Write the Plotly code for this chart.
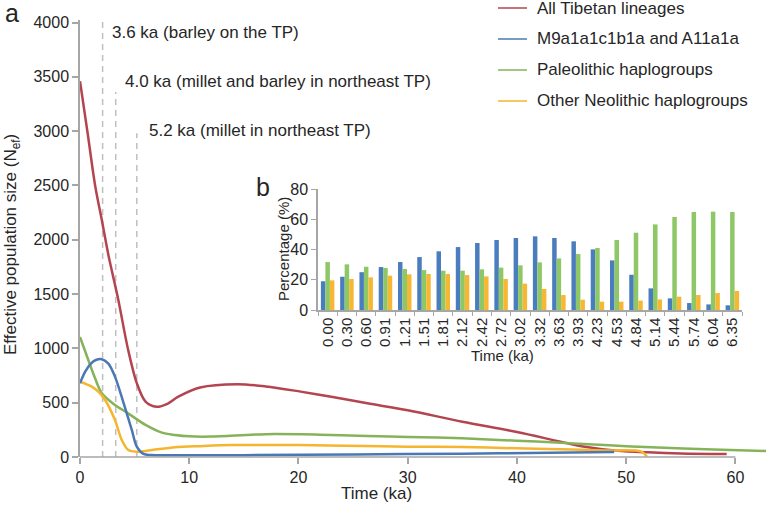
import plotly.graph_objects as go

# ---------------- data ----------------
red_x = [0, 0.7, 1.4, 2.0, 2.6, 3.5, 4.4, 5.2, 6.0, 7.0, 8.0, 9.0, 11, 14.4, 17, 20.2, 23, 26.3, 30, 35, 40, 44, 46.2, 49.2, 52, 55, 59.2]
red_y = [3460, 2980, 2490, 2180, 1860, 1450, 990, 680, 510, 463, 490, 555, 640, 670, 650, 602, 555, 494, 430, 325, 230, 141, 95, 58, 43, 33, 28]

blue_x = [0, 0.5, 1.0, 1.5, 2.0, 2.6, 3.2, 4.0, 4.74, 5.2, 5.8, 6.5, 8, 15, 25, 35, 43, 48.9]
blue_y = [679, 790, 860, 895, 900, 860, 740, 494, 249, 95, 28, 18, 15, 17, 24, 30, 40, 45]

green_x = [0, 0.76, 1.4, 2.0, 3.2, 4.4, 6.0, 7.5, 8.7, 10, 12, 17, 22, 26.3, 30, 35, 40, 44, 48, 52.3, 58, 63]
green_y = [1105, 893, 720, 587, 479, 402, 295, 224, 203, 190, 188, 210, 205, 193, 185, 172, 150, 132, 110, 89, 70, 55]

orange_x = [0, 1.07, 1.7, 2.3, 3.2, 3.82, 4.43, 5.2, 6.6, 8.7, 11, 14, 20, 26, 30, 35, 40, 44, 48, 51.4, 51.9]
orange_y = [694, 648, 600, 525, 341, 157, 64, 49, 64, 89, 100, 110, 110, 101, 95, 92, 80, 71, 60, 49, 3]

series_names = ["All Tibetan lineages", "M9a1a1c1b1a and A11a1a",
                "Paleolithic haplogroups", "Other Neolithic haplogroups"]

event_x = [2.07, 3.27, 5.2]
event_top = [4020, 3360, 2980]
event_labels = ["3.6 ka (barley on the TP)",
                "4.0 ka (millet and barley in northeast TP)",
                "5.2 ka (millet in northeast TP)"]

inset_times = ["0.00", "0.30", "0.60", "0.91", "1.21", "1.51", "1.81", "2.12", "2.42", "2.72", "3.02",
               "3.32", "3.63", "3.93", "4.23", "4.53", "4.84", "5.14", "5.44", "5.74", "6.04", "6.35"]
inset_blue = [19, 22, 25, 28.4, 31.7, 35, 38.8, 41.6, 44.3, 46.3, 47.6,
              48.7, 47.6, 45.4, 40.1, 32.8, 23.3, 14.3, 7.7, 4.6, 3.7, 3.1]
inset_green = [31.7, 30.2, 28.6, 27.8, 27.1, 26.4, 26, 26, 26.9, 28, 29.5,
               31.5, 34.1, 37, 41, 46.3, 51.1, 56.6, 61.5, 64.8, 65, 64.8]
inset_orange = [19.6, 20.5, 21.6, 22.7, 23.6, 23.8, 23.8, 23.1, 22.2, 20.5, 17.4,
                13.9, 9.9, 6.8, 5.5, 5.5, 6.2, 7, 8.8, 9.9, 11.2, 12.6]

main_yticks = [0, 500, 1000, 1500, 2000, 2500, 3000, 3500, 4000]
main_xticks = [0, 10, 20, 30, 40, 50, 60]
inset_yticks = [0, 20, 40, 60, 80]

# ---------------- style ----------------
FONT = "Liberation Sans, Arial, sans-serif"
TXT = "#262626"
AX = "#a6a6a6"
c_red, c_blue, c_green, c_orange = "#b4444f", "#4a78b5", "#86b35a", "#f5b52e"
b_blue, b_green, b_orange = "#4a7dbd", "#8dc766", "#f7b733"

fig = go.Figure()

for xs, ys, col, nm in [(red_x, red_y, c_red, series_names[0]),
                        (green_x, green_y, c_green, series_names[2]),
                        (orange_x, orange_y, c_orange, series_names[3]),
                        (blue_x, blue_y, c_blue, series_names[1])]:
    fig.add_trace(go.Scatter(x=xs, y=ys, mode="lines", name=nm,
                             line=dict(color=col, width=2.5, shape="spline", smoothing=0.9),
                             showlegend=False, xaxis="x", yaxis="y"))

for vals, col in [(inset_blue, b_blue), (inset_green, b_green), (inset_orange, b_orange)]:
    fig.add_trace(go.Bar(x=inset_times, y=vals, marker=dict(color=col, line=dict(width=0)),
                         showlegend=False, xaxis="x2", yaxis="y2"))

# dashed event lines + labels
for ex, et in zip(event_x, event_top):
    fig.add_shape(type="line", xref="x", yref="y", x0=ex, x1=ex, y0=0, y1=et,
                  line=dict(color="#bfbfbf", width=1.5, dash="6px,5px"), layer="below")

label_pos = [(110, 32), (123, 81), (147, 130)]
for (px, py), lab in zip(label_pos, event_labels):
    fig.add_annotation(xref="paper", yref="paper", x=(px - 80) / 686, y=(457 - py) / 437,
                       text=lab, showarrow=False, xanchor="left", yanchor="middle",
                       font=dict(size=17, color=TXT, family=FONT))

# main x axis line (0-60 only)
fig.add_shape(type="line", xref="x", yref="paper", x0=0, x1=60, y0=0, y1=0,
              line=dict(color=AX, width=1.5))

# custom legend
leg_cols = [c_red, c_blue, c_green, c_orange]
leg_y = [8, 39, 70, 101]
for nm, col, py in zip(series_names, leg_cols, leg_y):
    yp = (457 - py) / 437
    fig.add_shape(type="line", xref="paper", yref="paper",
                  x0=(498 - 80) / 686, x1=(527 - 80) / 686, y0=yp, y1=yp,
                  line=dict(color=col, width=1.5))
    fig.add_annotation(xref="paper", yref="paper", x=(535 - 80) / 686, y=yp, text=nm,
                       showarrow=False, xanchor="left", yanchor="middle",
                       font=dict(size=17, color=TXT, family=FONT))

def ann(px, py, text, size, angle=0, anchor="center"):
    fig.add_annotation(xref="paper", yref="paper", x=(px - 80) / 686, y=(457 - py) / 437,
                       text=text, showarrow=False, xanchor=anchor, yanchor="middle",
                       textangle=angle, font=dict(size=size, color=TXT, family=FONT))

ann(12, 13, "a", 25)
ann(263, 187, "b", 25)
ann(376, 493, "Time (ka)", 17)
ann(12, 245, "Effective population size (N<sub>ef</sub>)", 17, angle=-90)
ann(502, 355, "Time (ka)", 15)
ann(283, 249, "Percentage (%)", 15, angle=-90)

fig.update_layout(
    width=768, height=506,
    margin=dict(l=80, r=2, t=20, b=49),
    paper_bgcolor="white", plot_bgcolor="rgba(0,0,0,0)",
    font=dict(family=FONT, color=TXT),
    barmode="group", bargap=0.3, bargroupgap=0,
    xaxis=dict(domain=[0, 1], range=[0, 62.8], tickvals=main_xticks, showgrid=False,
               zeroline=False, showline=False, ticks="outside", ticklen=6, tickwidth=1.5,
               tickcolor=AX, tickfont=dict(size=16, color=TXT)),
    yaxis=dict(domain=[0, 1], range=[0, 4023], tickvals=main_yticks, showgrid=False,
               zeroline=False, showline=True, linecolor=AX, linewidth=1.5, ticks="outside",
               ticklen=6, tickwidth=1.5, tickcolor=AX, tickfont=dict(size=16, color=TXT)),
    xaxis2=dict(domain=[(318 - 80) / 686, (742 - 80) / 686], anchor="y2", type="category",
                showgrid=False, zeroline=False, showline=True, linecolor=AX, linewidth=1.5,
                ticks="outside", tickson="boundaries", ticklen=4, tickcolor=AX,
                tickangle=-90, tickfont=dict(size=15, color=TXT)),
    yaxis2=dict(domain=[(457 - 310) / 437, (457 - 189) / 437], anchor="x2", range=[0, 80],
                tickvals=inset_yticks, showgrid=False, zeroline=False, showline=True,
                linecolor=AX, linewidth=1.5, ticks="outside", ticklen=5, tickcolor=AX,
                tickfont=dict(size=16, color=TXT)),
)

fig.write_html("out.html", config={"displayModeBar": False},
               post_script="document.body.style.margin='0px';document.body.style.overflow='hidden';")
